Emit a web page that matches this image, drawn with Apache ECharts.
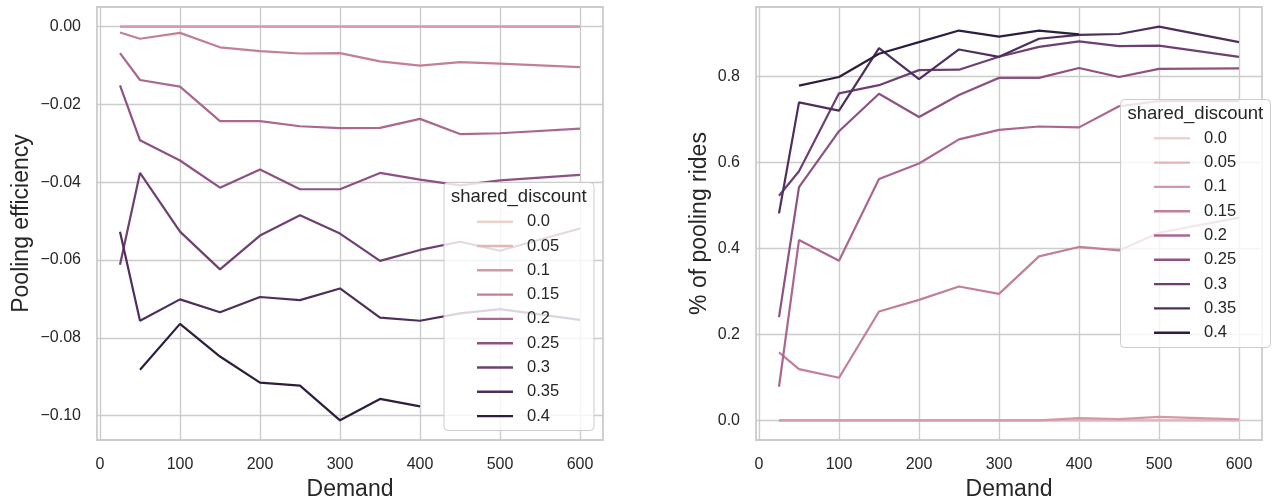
<!DOCTYPE html>
<html><head><meta charset="utf-8">
<script src="https://cdn.jsdelivr.net/npm/echarts@6.0.0/dist/echarts.min.js"></script>
<style>html,body{margin:0;padding:0;background:#fff}#c{width:1280px;height:500px}</style>
</head><body><div id="c"></div>
<script>
// ---- data ----
const demand = [25, 50, 100, 150, 200, 250, 300, 350, 400, 450, 500, 600];
const discounts = ['0.0', '0.05', '0.1', '0.15', '0.2', '0.25', '0.3', '0.35', '0.4'];
const xTicks = [0, 100, 200, 300, 400, 500, 600];
const effTicks = [-0.10, -0.08, -0.06, -0.04, -0.02, 0.00];
const poolTicks = [0.0, 0.2, 0.4, 0.6, 0.8];

// Pooling efficiency
const eff_00 = [0, 0, 0, 0, 0, 0, 0, 0, 0, 0, 0, 0];
const eff_05 = [0, 0, 0, 0, 0, 0, 0, 0, 0, 0, 0, 0];
const eff_10 = [0, 0, 0, 0, 0, 0, 0, 0, 0, 0, 0, 0];
const eff_15 = [-0.0015, -0.0031, -0.0016, -0.0053, -0.0063, -0.0069, -0.0068, -0.0089, -0.0100, -0.0091, -0.0095, -0.0104];
const eff_20 = [-0.0068, -0.0137, -0.0154, -0.0243, -0.0243, -0.0256, -0.0261, -0.0260, -0.0237, -0.0276, -0.0274, -0.0262];
const eff_25 = [-0.0151, -0.0292, -0.0344, -0.0414, -0.0367, -0.0418, -0.0418, -0.0376, -0.0393, -0.0408, -0.0395, -0.0381];
const eff_30 = [-0.0612, -0.0376, -0.0527, -0.0624, -0.0537, -0.0485, -0.0532, -0.0602, -0.0574, -0.0553, -0.0576, -0.0519];
const eff_35 = [-0.0527, -0.0756, -0.0701, -0.0734, -0.0695, -0.0703, -0.0673, -0.0748, -0.0756, -0.0737, -0.0726, -0.0754];
const eff_40 = [null, -0.0882, -0.0764, -0.0848, -0.0915, -0.0923, -0.1012, -0.0957, -0.0976, null, null, null];

// % of pooling rides
const pool_00 = [0, 0, 0, 0, 0, 0, 0, 0, 0, 0, 0, 0];
const pool_05 = [0, 0, 0, 0, 0, 0, 0, 0, 0, 0, 0, 0];
const pool_10 = [0, 0, 0, 0, 0, 0, 0, 0, 0.005, 0.003, 0.008, 0.002];
const pool_15 = [0.158, 0.119, 0.099, 0.253, 0.280, 0.311, 0.294, 0.381, 0.403, 0.395, 0.436, 0.471];
const pool_20 = [0.078, 0.419, 0.371, 0.561, 0.597, 0.653, 0.675, 0.683, 0.681, 0.730, 0.742, 0.742];
const pool_25 = [0.240, 0.542, 0.672, 0.759, 0.705, 0.756, 0.796, 0.796, 0.819, 0.798, 0.817, 0.818];
const pool_30 = [0.522, 0.579, 0.760, 0.779, 0.814, 0.815, 0.845, 0.868, 0.881, 0.870, 0.871, 0.845];
const pool_35 = [0.481, 0.739, 0.720, 0.865, 0.793, 0.862, 0.845, 0.887, 0.896, 0.898, 0.915, 0.879];
const pool_40 = [null, 0.778, 0.798, 0.852, 0.879, 0.906, 0.892, 0.906, 0.897, null, null, null];

const effSeries = [eff_00, eff_05, eff_10, eff_15, eff_20, eff_25, eff_30, eff_35, eff_40];
const poolSeries = [pool_00, pool_05, pool_10, pool_15, pool_20, pool_25, pool_30, pool_35, pool_40];

// ---- style ----
const colors = ['#edd1cb', '#e2b5b6', '#d499a7', '#c17f9a', '#aa678f', '#8d5282', '#6e4071', '#4d2f5b', '#2d1e3e'];
const FONT = '"Liberation Sans", Arial, sans-serif';
const TXT = '#262626';
const GRIDC = '#cccccc';

function pairs(vals) {
  const out = [];
  demand.forEach((d, i) => { if (vals[i] !== null) out.push([d, vals[i]]); });
  return out;
}
function padRange(arrs) {
  let lo = Infinity, hi = -Infinity;
  arrs.forEach(a => a.forEach(v => { if (v !== null) { lo = Math.min(lo, v); hi = Math.max(hi, v); } }));
  const p = (hi - lo) * 0.05;
  return [lo - p, hi + p];
}
const xr = padRange([demand]);
const effR = padRange(effSeries);
const poolR = padRange(poolSeries);

function minusFmt(v, d) {
  const s = Math.abs(v).toFixed(d);
  return (v < -1e-9 ? '\u2212' : '') + s;
}

const grids = [
  { left: 97, top: 7, width: 506, height: 433 },
  { left: 756, top: 7, width: 506, height: 433 }
].map(g => Object.assign(g, { show: true, borderColor: GRIDC, borderWidth: 1.8, backgroundColor: 'transparent',
  containLabel: false, outerBoundsMode: 'none' }));

function xAxis(i) {
  return {
    type: 'value', gridIndex: i, min: xr[0], max: xr[1],
    axisLine: { show: false },
    axisTick: { show: false, customValues: xTicks },
    axisLabel: { customValues: xTicks, fontSize: 16, color: TXT, fontFamily: FONT, margin: 17 },
    splitLine: { show: true, lineStyle: { color: GRIDC, width: 1.4 } },
    name: 'Demand', nameLocation: 'middle', nameGap: 37,
    nameTextStyle: { fontSize: 23, color: TXT, fontFamily: FONT }
  };
}
function yAxis(i, r, ticks, dec, name, gap) {
  return {
    type: 'value', gridIndex: i, min: r[0], max: r[1],
    axisLine: { show: false },
    axisTick: { show: false, customValues: ticks },
    axisLabel: { customValues: ticks, fontSize: 16, color: TXT, fontFamily: FONT, margin: 16,
      formatter: v => minusFmt(v, dec) },
    splitLine: { show: true, lineStyle: { color: GRIDC, width: 1.4 } },
    name: name, nameLocation: 'middle', nameGap: gap,
    nameTextStyle: { fontSize: 23, color: TXT, fontFamily: FONT }
  };
}

const series = [];
effSeries.forEach((vals, k) => series.push({
  type: 'line', name: discounts[k], xAxisIndex: 0, yAxisIndex: 0, data: pairs(vals),
  symbol: 'none', color: colors[k], lineStyle: { width: 2.2, color: colors[k] }, z: 2
}));
poolSeries.forEach((vals, k) => series.push({
  type: 'line', name: discounts[k], xAxisIndex: 1, yAxisIndex: 1, data: pairs(vals),
  symbol: 'none', color: colors[k], lineStyle: { width: 2.2, color: colors[k] }, z: 2
}));

function legend(left, top) {
  return {
    data: discounts, orient: 'vertical', left: left, top: top, padding: 0,
    icon: 'rect', itemGap: 4.3, itemWidth: 36, itemHeight: 2.4, selectedMode: false, z: 5,
    textStyle: { fontSize: 16.5, color: TXT, fontFamily: FONT, lineHeight: 20, padding: [0, 0, 0, 9] }
  };
}
function legendBox(x, y, tx, ty) {
  return [
    { type: 'rect', x: x, y: y, z: 3, shape: { width: 150, height: 248, r: 4 },
      style: { fill: 'rgba(255,255,255,0.8)', stroke: GRIDC, lineWidth: 1 } },
    { type: 'text', x: tx, y: ty, z: 6,
      style: { text: 'shared_discount', fontSize: 18.5, fontFamily: FONT, fill: TXT, verticalAlign: 'middle', align: 'left' } }
  ];
}

const chart = echarts.init(document.getElementById('c'), null, { renderer: 'canvas' });
chart.setOption({
  animation: false,
  backgroundColor: '#ffffff',
  grid: grids,
  xAxis: [xAxis(0), xAxis(1)],
  yAxis: [
    yAxis(0, effR, effTicks, 2, 'Pooling efficiency', 64),
    yAxis(1, poolR, poolTicks, 1, '% of pooling rides', 45)
  ],
  legend: [legend(477, 211.7), legend(1154, 128.3)],
  graphic: { elements: [].concat(legendBox(444, 182.5, 451, 196.7), legendBox(1120.5, 99.5, 1127.5, 114)) },
  series: series
});
</script>
</body></html>
